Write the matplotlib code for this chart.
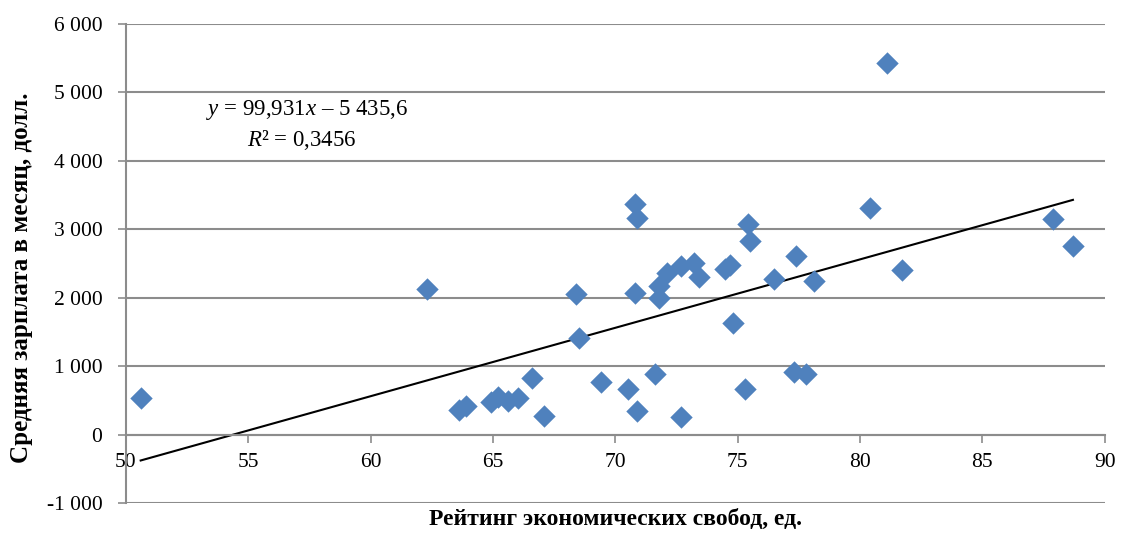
import matplotlib
matplotlib.use('Agg')
import matplotlib.pyplot as plt
from matplotlib.ticker import FuncFormatter, MultipleLocator

# рейтинг экономических свобод (x) и средняя зарплата (y)
rating = [50.6, 62.3, 63.6, 63.9, 64.9, 65.2, 65.6, 66.0, 66.6, 67.1,
          68.4, 68.5, 69.4, 70.5, 70.8, 70.8, 70.9, 70.9, 71.6, 71.8,
          71.8, 72.1, 72.7, 72.7, 73.2, 73.4, 74.5, 74.7, 74.8, 75.3,
          75.4, 75.5, 76.5, 77.4, 77.3, 77.8, 78.1, 80.4, 81.1, 81.7,
          87.9, 88.7]
salary = [530, 2120, 365, 420, 480, 545, 490, 540, 820, 270,
          2050, 1410, 770, 670, 3370, 2070, 3170, 350, 890, 2170,
          1990, 2360, 260, 2460, 2500, 2300, 2420, 2480, 1630, 670,
          3080, 2830, 2270, 2610, 910, 880, 2250, 3310, 5430, 2410,
          3150, 2760]

slope = 99.931
intercept = -5435.6
r2 = '0,3456'

plt.rcParams['font.family'] = 'Liberation Serif'
plt.rcParams['mathtext.fontset'] = 'custom'
plt.rcParams['mathtext.rm'] = 'Liberation Serif'
plt.rcParams['mathtext.it'] = 'Liberation Serif:italic'

fig = plt.figure(figsize=(11.25, 5.33), dpi=100)
ax = fig.add_axes([0.112, 0.0563, 0.870, 0.899])

gray = '#8c8c8c'
ax.set_xlim(50, 90)
ax.set_ylim(-1000, 6000)
ax.yaxis.set_major_locator(MultipleLocator(1000))
ax.xaxis.set_major_locator(MultipleLocator(5))
ax.grid(axis='y', color=gray, linewidth=1.5, zorder=0)
ax.set_axisbelow(True)

def fmt(v, pos):
    s = '{:,.0f}'.format(v).replace(',', ' ')
    return s
ax.yaxis.set_major_formatter(FuncFormatter(fmt))

for s in ['top', 'right']:
    ax.spines[s].set_visible(False)
ax.spines['bottom'].set_position(('data', 0))
ax.spines['bottom'].set_color(gray)
ax.spines['left'].set_color(gray)
ax.spines['bottom'].set_linewidth(1.5)
ax.spines['left'].set_linewidth(1.5)
ax.tick_params(axis='both', colors=gray, labelcolor='black', labelsize=15.5,
               length=6, width=1.2)
ax.tick_params(axis='y', pad=11)
ax.tick_params(axis='x', pad=7)

# линия тренда
xs = [min(rating), max(rating)]
ys = [slope * v + intercept for v in xs]
ax.plot(xs, ys, color='black', linewidth=1.5, zorder=2)

ax.scatter(rating, salary, marker='D', s=130, color='#4F81BD', zorder=3,
           linewidths=0)

ax.text(57.4, 4745, '$y$ = 99,931$x$ – 5 435,6', ha='center', va='center', fontsize=16.5)
ax.text(57.2, 4300, '$R$² = ' + r2, ha='center', va='center', fontsize=16.5)

ax.set_xlabel('Рейтинг экономических свобод, ед.', fontsize=17, fontweight='bold')
ax.set_ylabel('Средняя зарплата в месяц, долл.', fontsize=18, fontweight='bold')
ax.xaxis.set_label_coords(0.5, -0.012)
ax.yaxis.set_label_coords(-0.095, 0.47)

fig.savefig('out.png', dpi=100)
